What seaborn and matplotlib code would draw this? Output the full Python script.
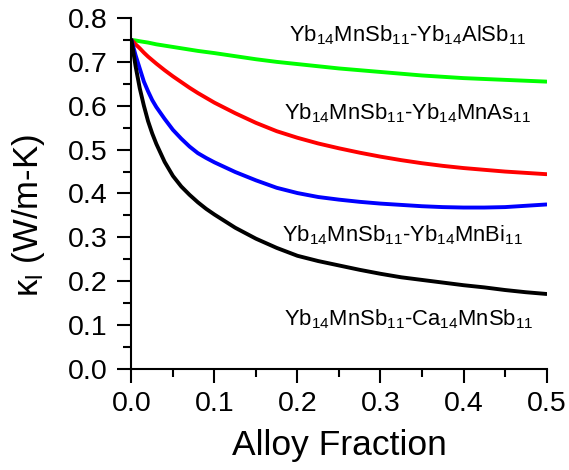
import numpy as np
import pandas as pd
import matplotlib
matplotlib.use("Agg")
import matplotlib.pyplot as plt
from matplotlib.ticker import MultipleLocator, FormatStrFormatter
import seaborn as sns

# Alloy fraction grid and lattice thermal conductivity (W/m-K) of each alloy system
alloy_fraction = [0.0, 0.005, 0.01, 0.015, 0.02, 0.025, 0.03, 0.04, 0.05, 0.06, 0.07,
                  0.08, 0.09, 0.10, 0.125, 0.15, 0.175, 0.20, 0.225, 0.25, 0.275,
                  0.30, 0.325, 0.35, 0.375, 0.40, 0.425, 0.45, 0.475, 0.50]
kappa_alsb = [0.750, 0.7488, 0.747, 0.7455, 0.744, 0.742, 0.740, 0.737, 0.734, 0.731, 0.728,
              0.725, 0.7225, 0.720, 0.713, 0.706, 0.700, 0.695, 0.690, 0.685, 0.681,
              0.677, 0.673, 0.669, 0.666, 0.663, 0.661, 0.659, 0.657, 0.655]
kappa_mnas = [0.750, 0.740, 0.731, 0.721, 0.712, 0.704, 0.696, 0.681, 0.667, 0.654, 0.641,
              0.629, 0.618, 0.607, 0.583, 0.561, 0.542, 0.527, 0.514, 0.503, 0.493,
              0.484, 0.476, 0.469, 0.463, 0.458, 0.454, 0.450, 0.447, 0.444]
kappa_mnbi = [0.750, 0.715, 0.685, 0.655, 0.633, 0.613, 0.597, 0.570, 0.545, 0.525, 0.507,
              0.492, 0.481, 0.471, 0.449, 0.430, 0.413, 0.401, 0.392, 0.386, 0.381,
              0.377, 0.374, 0.371, 0.369, 0.368, 0.368, 0.369, 0.372, 0.375]
kappa_ca = [0.750, 0.690, 0.640, 0.600, 0.565, 0.537, 0.513, 0.472, 0.440, 0.416, 0.397,
            0.380, 0.365, 0.352, 0.322, 0.297, 0.276, 0.258, 0.246, 0.236, 0.226,
            0.217, 0.209, 0.203, 0.197, 0.191, 0.186, 0.180, 0.175, 0.171]

series_names = ["AlSb", "MnAs", "MnBi", "Ca"]
series_labels = [
    r"Yb$_{14}$MnSb$_{11}$-Yb$_{14}$AlSb$_{11}$",
    r"Yb$_{14}$MnSb$_{11}$-Yb$_{14}$MnAs$_{11}$",
    r"Yb$_{14}$MnSb$_{11}$-Yb$_{14}$MnBi$_{11}$",
    r"Yb$_{14}$MnSb$_{11}$-Ca$_{14}$MnSb$_{11}$",
]
series_colors = ["#00ff00", "#ff0000", "#0000ff", "#000000"]
label_x = [0.333, 0.333, 0.327, 0.334]
label_y = [0.746, 0.568, 0.290, 0.100]

df = pd.concat([
    pd.DataFrame({"x": alloy_fraction, "kappa": vals, "system": name})
    for name, vals in zip(series_names, [kappa_alsb, kappa_mnas, kappa_mnbi, kappa_ca])
], ignore_index=True)

sns.set_style("ticks")
plt.rcParams["font.family"] = ["Liberation Sans", "DejaVu Sans"]
plt.rcParams["mathtext.fontset"] = "custom"
plt.rcParams["mathtext.rm"] = "Liberation Sans"
plt.rcParams["mathtext.it"] = "Liberation Sans:italic"
plt.rcParams["mathtext.bf"] = "Liberation Sans:bold"
plt.rcParams["text.color"] = "black"
plt.rcParams["axes.labelcolor"] = "black"
plt.rcParams["xtick.color"] = "black"
plt.rcParams["ytick.color"] = "black"

fig = plt.figure(figsize=(5.69, 4.70), dpi=100)
ax = fig.add_axes([0.231, 0.2149, 0.7295, 0.7468])

sns.lineplot(data=df, x="x", y="kappa", hue="system",
             palette=dict(zip(series_names, series_colors)),
             linewidth=2.8, legend=False, ax=ax, sort=False)

for lab, lx, ly in zip(series_labels, label_x, label_y):
    ax.text(lx, ly, lab, ha="center", va="baseline", fontsize=15.8, color="black")

ax.set_xlim(0, 0.5)
ax.set_ylim(0, 0.8)
ax.xaxis.set_major_locator(MultipleLocator(0.1))
ax.xaxis.set_minor_locator(MultipleLocator(0.05))
ax.yaxis.set_major_locator(MultipleLocator(0.1))
ax.yaxis.set_minor_locator(MultipleLocator(0.05))
ax.xaxis.set_major_formatter(FormatStrFormatter("%.1f"))
ax.yaxis.set_major_formatter(FormatStrFormatter("%.1f"))

ax.tick_params(which="major", direction="out", length=10, width=1.5, labelsize=20.5,
               colors="black", pad=7.5)
ax.tick_params(which="minor", direction="out", length=5.5, width=1.5, colors="black")
ax.tick_params(axis="x", which="major", pad=5.5)

for side in ["top", "right"]:
    ax.spines[side].set_visible(False)
for side in ["left", "bottom"]:
    ax.spines[side].set_linewidth(1.5)
    ax.spines[side].set_color("black")

ax.set_xlabel("Alloy Fraction", fontsize=25.5)
ax.xaxis.set_label_coords(0.502, -0.172)
ax.set_ylabel("κ$_\\mathrm{l}$ (W/m-K)", fontsize=25)
ax.yaxis.set_label_coords(-0.203, 0.436)

fig.savefig("out.png", dpi=100)
